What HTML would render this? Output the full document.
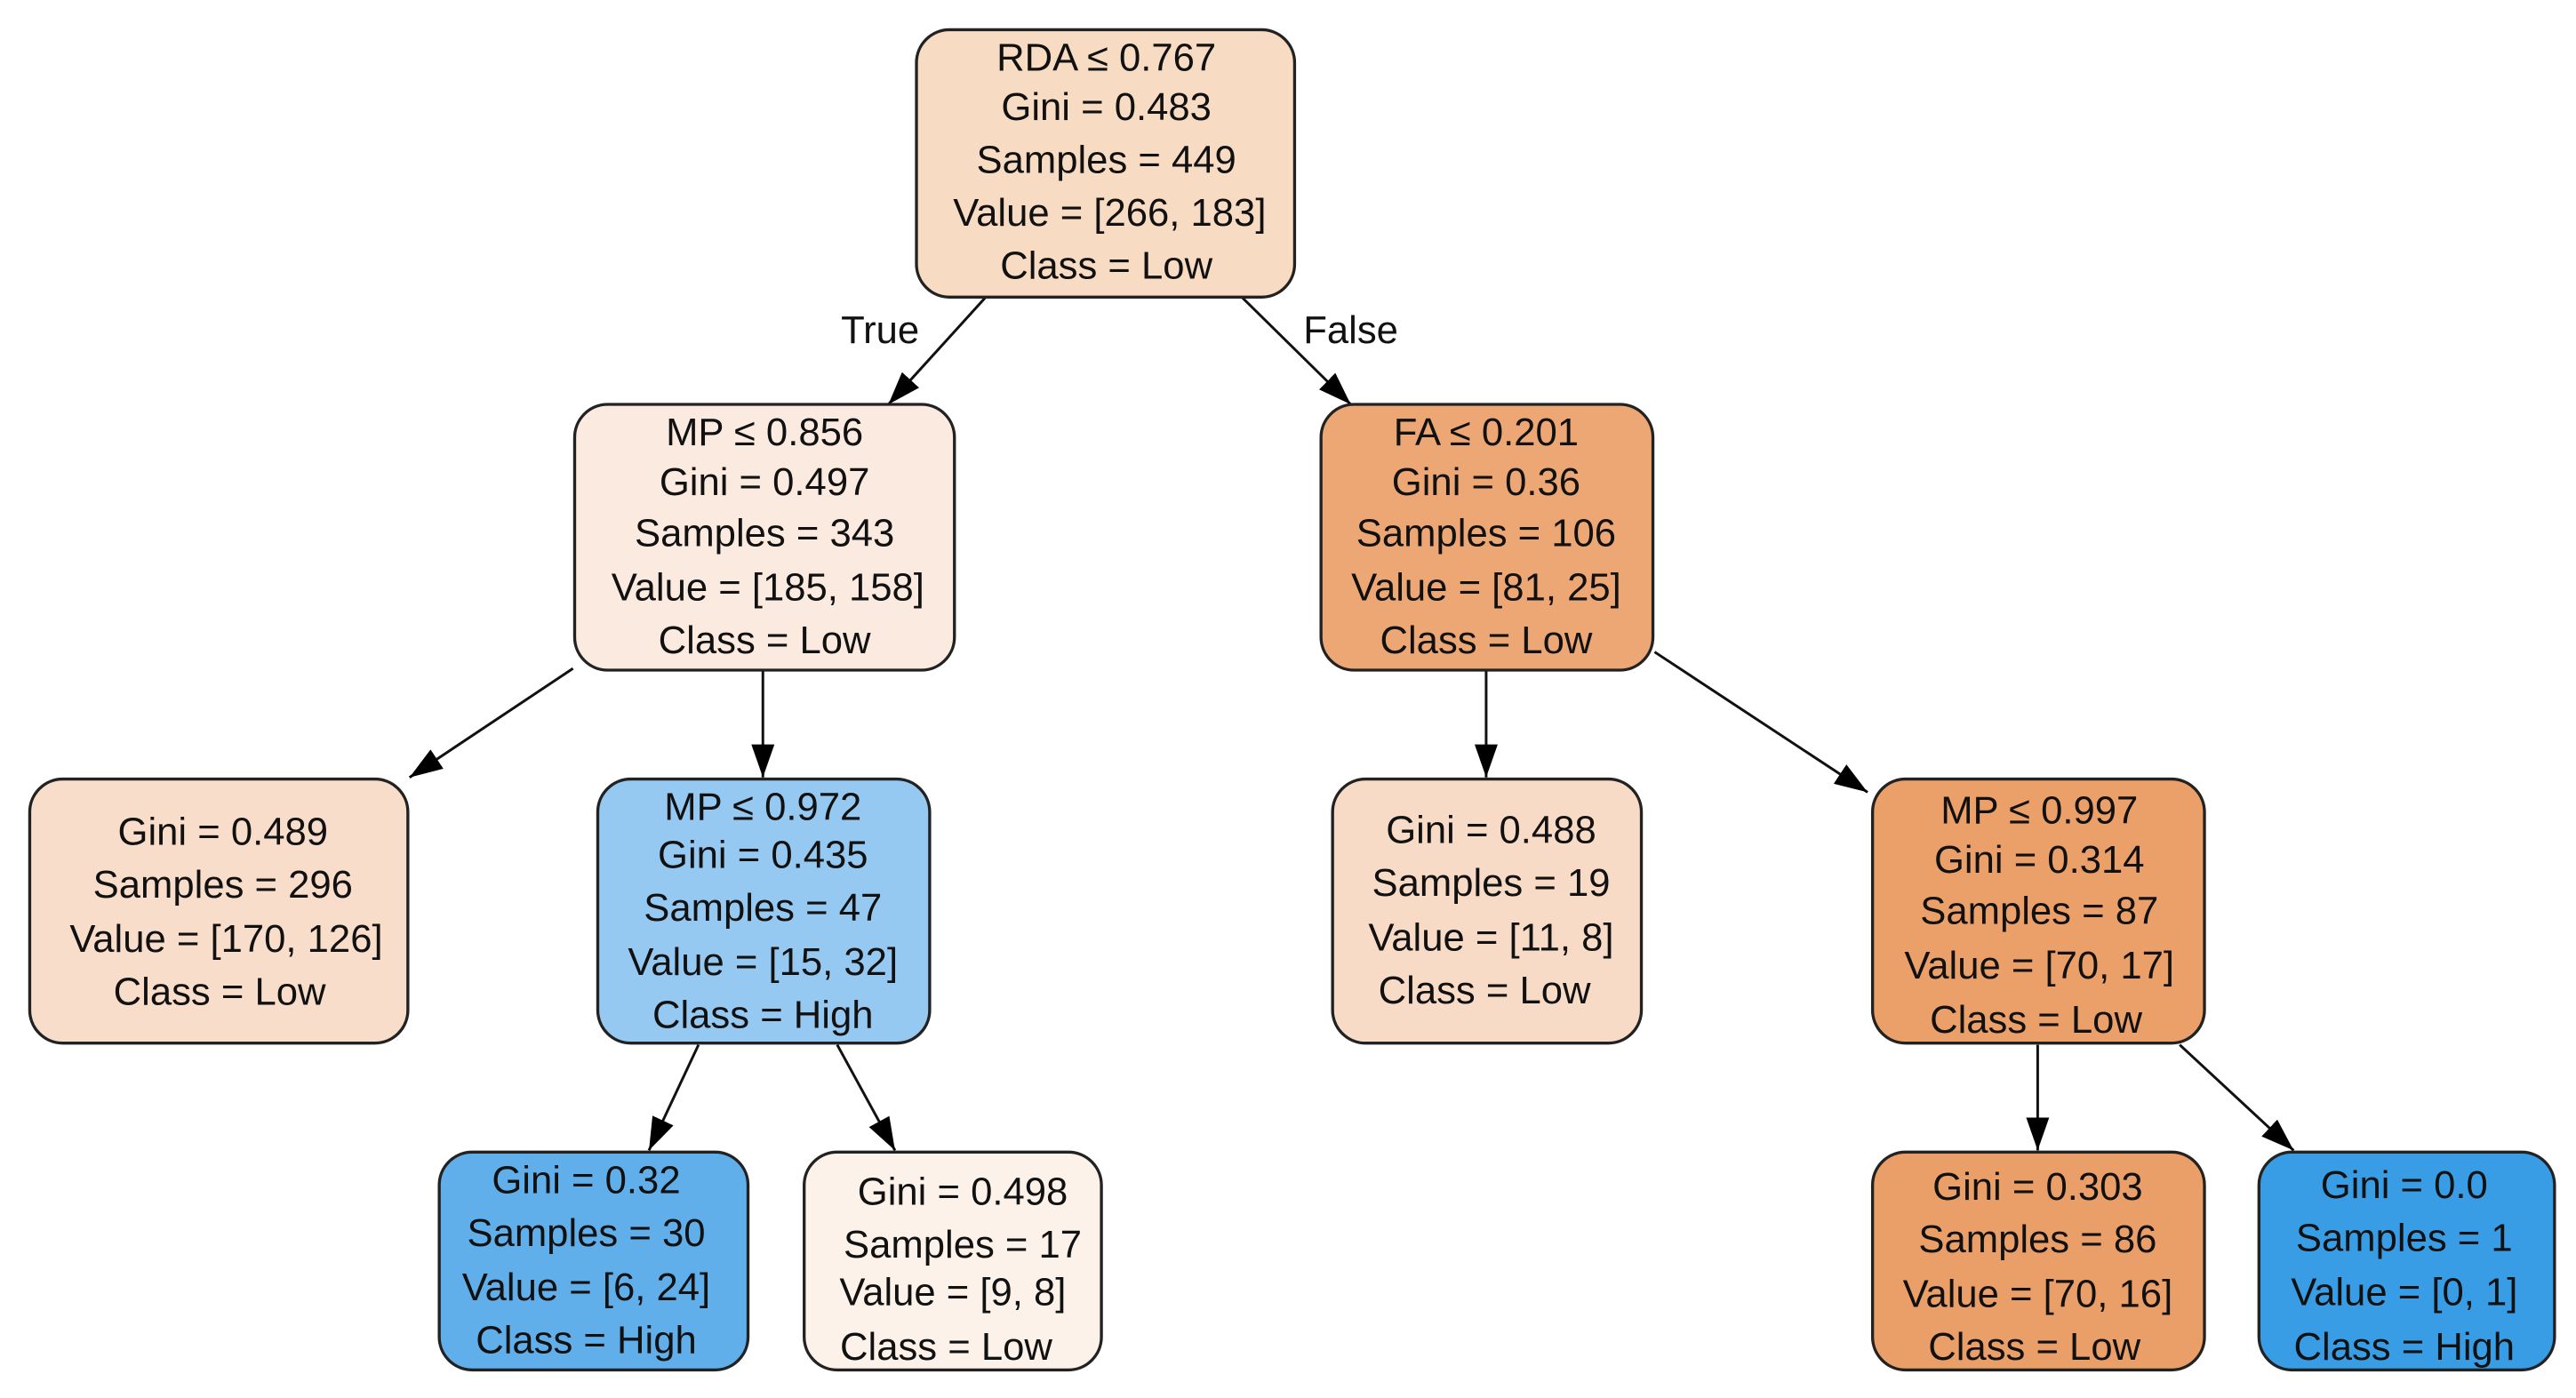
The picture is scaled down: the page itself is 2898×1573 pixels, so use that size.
<!DOCTYPE html>
<html><head><meta charset="utf-8"><style>
html,body{margin:0;padding:0;background:#fff;}
svg{display:block;}
text{font-family:"Liberation Sans",sans-serif;font-size:23.5px;fill:#111;text-anchor:middle;dominant-baseline:central;}
</style></head><body>
<svg width="2898" height="1573" viewBox="0 0 1560 847" preserveAspectRatio="none" xmlns="http://www.w3.org/2000/svg">
<defs><marker id="a" viewBox="0 0 10 10" refX="10" refY="5" markerWidth="7" markerHeight="7" orient="auto" markerUnits="userSpaceOnUse"><path d="M0,0 L10,5 L0,10 z" fill="#000"/></marker>
<marker id="b" viewBox="0 0 10 10" refX="10" refY="5" markerWidth="20" markerHeight="14" orient="auto" markerUnits="userSpaceOnUse" preserveAspectRatio="none"><path d="M0,0 L10,5 L0,10 z" fill="#000"/></marker></defs>
<g stroke="#111" stroke-width="1.6" marker-end="url(#b)">
<line x1="597" y1="180" x2="538" y2="245"/>
<line x1="752" y1="180" x2="818" y2="245"/>
<line x1="347" y1="405" x2="248" y2="471"/>
<line x1="462" y1="406" x2="462" y2="471"/>
<line x1="900" y1="406" x2="900" y2="471"/>
<line x1="1002" y1="395" x2="1131" y2="480"/>
<line x1="423" y1="633" x2="393" y2="697"/>
<line x1="507" y1="633" x2="542" y2="697"/>
<line x1="1234" y1="633" x2="1234" y2="697"/>
<line x1="1320" y1="633" x2="1389" y2="697"/>
</g>
<text x="533" y="200">True</text><text x="818" y="200">False</text>
<g stroke="#222" stroke-width="1.8">
<rect x="555" y="18" width="229" height="162" rx="20" fill="#f8dbc3"/>
<rect x="348" y="245" width="230" height="161" rx="20" fill="#fbeadf"/>
<rect x="800" y="245" width="201" height="161" rx="20" fill="#eda774"/>
<rect x="18" y="472" width="229" height="160" rx="20" fill="#f8ddca"/>
<rect x="362" y="472" width="201" height="160" rx="20" fill="#95c9f2"/>
<rect x="807" y="472" width="187" height="160" rx="20" fill="#f8dbc6"/>
<rect x="1134" y="472" width="201" height="160" rx="20" fill="#eba069"/>
<rect x="266" y="698" width="187" height="132" rx="20" fill="#60aeea"/>
<rect x="487" y="698" width="180" height="132" rx="20" fill="#fcf2ea"/>
<rect x="1134" y="698" width="201" height="132" rx="20" fill="#eb9f68"/>
<rect x="1368" y="698" width="179" height="132" rx="20" fill="#399de5"/>
</g>
<text x="670" y="35">RDA ≤ 0.767</text><text x="670" y="65">Gini = 0.483</text><text x="670" y="97">Samples = 449</text><text x="672" y="129">Value = [266, 183]</text><text x="670" y="161">Class = Low</text>
<text x="463" y="262">MP ≤ 0.856</text><text x="463" y="292">Gini = 0.497</text><text x="463" y="323">Samples = 343</text><text x="465" y="356">Value = [185, 158]</text><text x="463" y="388">Class = Low</text>
<text x="900" y="262">FA ≤ 0.201</text><text x="900" y="292">Gini = 0.36</text><text x="900" y="323">Samples = 106</text><text x="900" y="356">Value = [81, 25]</text><text x="900" y="388">Class = Low</text>
<text x="135" y="504">Gini = 0.489</text><text x="135" y="536">Samples = 296</text><text x="137" y="569">Value = [170, 126]</text><text x="133" y="601">Class = Low</text>
<text x="462" y="489">MP ≤ 0.972</text><text x="462" y="518">Gini = 0.435</text><text x="462" y="550">Samples = 47</text><text x="462" y="583">Value = [15, 32]</text><text x="462" y="615">Class = High</text>
<text x="903" y="503">Gini = 0.488</text><text x="903" y="535">Samples = 19</text><text x="903" y="568">Value = [11, 8]</text><text x="899" y="600">Class = Low</text>
<text x="1235" y="491">MP ≤ 0.997</text><text x="1235" y="521">Gini = 0.314</text><text x="1235" y="552">Samples = 87</text><text x="1235" y="585">Value = [70, 17]</text><text x="1233" y="618">Class = Low</text>
<text x="355" y="715">Gini = 0.32</text><text x="355" y="747">Samples = 30</text><text x="355" y="780">Value = [6, 24]</text><text x="355" y="812">Class = High</text>
<text x="583" y="722">Gini = 0.498</text><text x="583" y="754">Samples = 17</text><text x="577" y="783">Value = [9, 8]</text><text x="573" y="816">Class = Low</text>
<text x="1234" y="719">Gini = 0.303</text><text x="1234" y="751">Samples = 86</text><text x="1234" y="784">Value = [70, 16]</text><text x="1232" y="816">Class = Low</text>
<text x="1456" y="718">Gini = 0.0</text><text x="1456" y="750">Samples = 1</text><text x="1456" y="783">Value = [0, 1]</text><text x="1456" y="816">Class = High</text>
</svg>
</body></html>
